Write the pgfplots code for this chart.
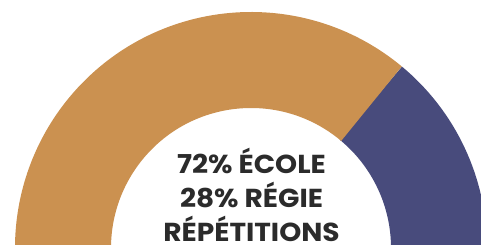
\documentclass[border=0pt]{standalone}
\usepackage{pgfplots}
\pgfplotsset{compat=1.18}
\usepackage{fontspec}
\newfontfamily\pop{Poppins}
\definecolor{ecole}{HTML}{CB9150}
\definecolor{regie}{HTML}{484B7C}
\definecolor{txt}{HTML}{2B2B2B}
\def\ecoleval{72}
\def\regieval{28}
\begin{document}
\begin{tikzpicture}
\useasboundingbox (0,0) rectangle (481pt,245pt);
\clip (0,0) rectangle (481pt,245pt);
\begin{axis}[
  x=1pt, y=1pt,
  xmin=0, xmax=481, ymin=0, ymax=245,
  hide axis, clip=false,
  anchor=origin, at={(0,0)},
]
\pgfmathsetmacro\split{180*\regieval/(\ecoleval+\regieval)}
\pgfmathsetmacro\splitb{\split-0.25}
\draw[regie, line width=96pt] (axis cs:251,-3) ++(0:188pt) arc[start angle=0, end angle=\split, radius=188pt];
\draw[ecole, line width=96pt] (axis cs:251,-3) ++(\splitb:188pt) arc[start angle=\splitb, end angle=180, radius=188pt];
\tikzset{lbl/.style={anchor=base, text=txt, font=\pop\bfseries\fontsize{26}{30}\selectfont, inner sep=0pt, xscale=1.08}}
\node[lbl] at (axis cs:251.5,71) {\ecoleval\% ÉCOLE};
\node[lbl] at (axis cs:251.5,37) {\regieval\% RÉGIE};
\node[lbl] at (axis cs:251.5,3) {RÉPÉTITIONS};
\end{axis}
\end{tikzpicture}
\end{document}
